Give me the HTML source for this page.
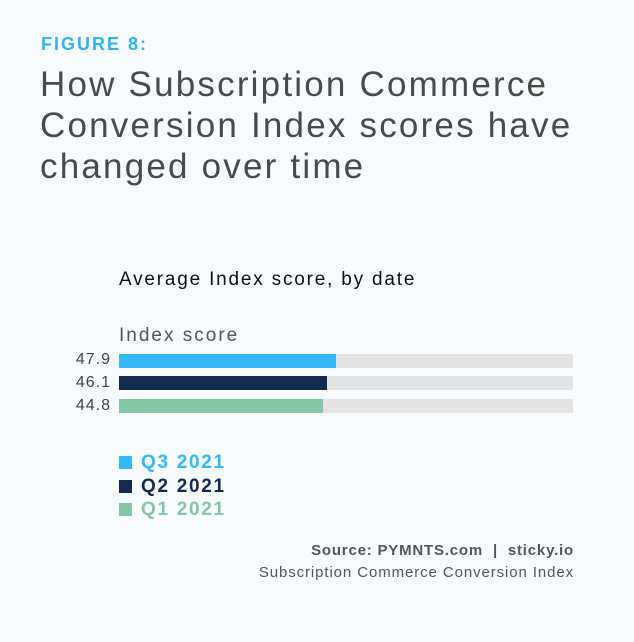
<!DOCTYPE html>
<html><head><style>
body{margin:0;width:634px;height:642px;background:#f8fbfe;font-family:"Liberation Sans",sans-serif;position:relative;overflow:hidden}
.a{position:absolute;white-space:nowrap}
.bg{position:absolute;left:119px;width:454px;height:14px;background:#e4e4e4}
.b{position:absolute;left:119px;height:14px}
.sq{position:absolute;left:119px;width:13px;height:13px}
.lg{position:absolute;left:141px;font-weight:bold;font-size:19px;letter-spacing:1.7px}
.v{position:absolute;right:523px;font-size:16px;color:#444;letter-spacing:1px}
</style></head><body>
<div class="a" style="left:41px;top:34px;font-size:18px;font-weight:bold;color:#2fb4f5;letter-spacing:2px">FIGURE 8:</div>
<div class="a" style="left:40px;top:64px;font-size:35px;line-height:41px;color:#4a4a4a;letter-spacing:2.2px">How Subscription Commerce<br>Conversion Index scores have<br>changed over time</div>
<div class="a" style="left:119px;top:269px;font-size:19px;color:#111;letter-spacing:1.8px">Average Index score, by date</div>
<div class="a" style="left:119px;top:325px;font-size:19px;color:#555;letter-spacing:2px">Index score</div>
<div class="bg" style="top:354px"></div><div class="b" style="top:354px;width:217px;background:#33b8fb"></div>
<div class="bg" style="top:376px"></div><div class="b" style="top:376px;width:208px;background:#132a4e"></div>
<div class="bg" style="top:399px"></div><div class="b" style="top:399px;width:204px;background:#86c5a6"></div>
<div class="v" style="top:351px">47.9</div>
<div class="v" style="top:374px">46.1</div>
<div class="v" style="top:397px">44.8</div>
<div class="sq" style="top:456px;background:#33b8fb"></div><div class="lg" style="top:452px;color:#33b8fb">Q3 2021</div>
<div class="sq" style="top:480px;background:#132a4e"></div><div class="lg" style="top:476px;color:#132a4e">Q2 2021</div>
<div class="sq" style="top:503px;background:#86c5a6"></div><div class="lg" style="top:499px;color:#86c5a6">Q1 2021</div>
<div class="a" style="right:60px;top:542px;font-size:15px;font-weight:bold;color:#555;letter-spacing:0.8px">Source: PYMNTS.com &nbsp;| &nbsp;sticky.io</div>
<div class="a" style="right:60px;top:564px;font-size:15px;color:#555;letter-spacing:0.9px">Subscription Commerce Conversion Index</div>
</body></html>
